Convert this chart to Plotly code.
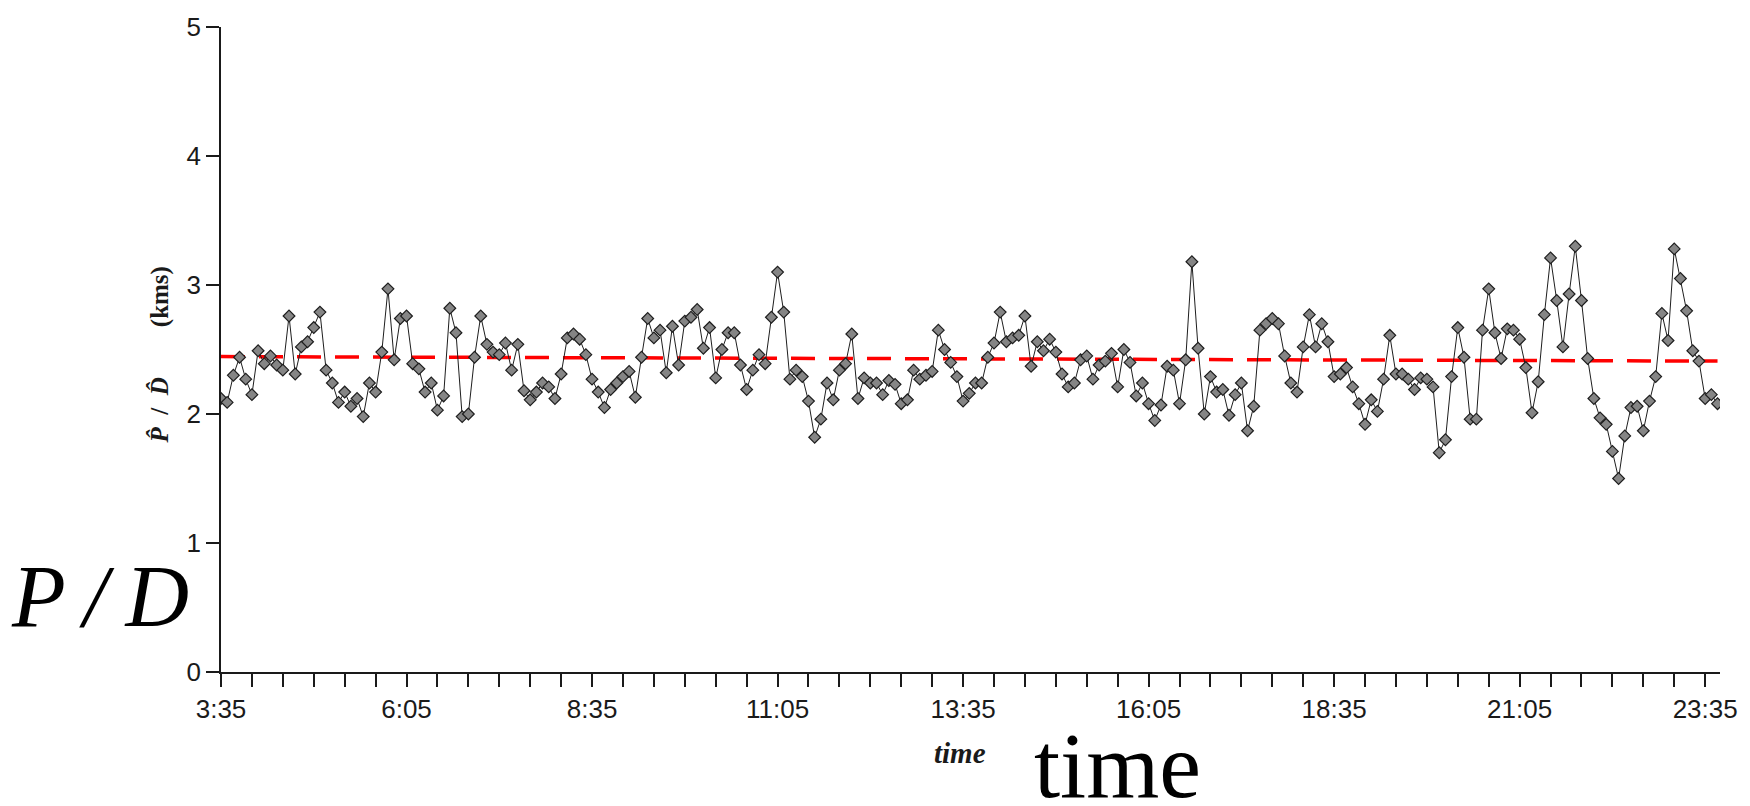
import plotly.graph_objects as go
from datetime import datetime, timedelta

# P/D estimates (kms), one every 5 minutes starting at 3:35
pd_values = [
    2.12, 2.09, 2.30, 2.44, 2.27, 2.15, 2.49, 2.39, 2.45, 2.38,
    2.34, 2.76, 2.31, 2.52, 2.56, 2.67, 2.79, 2.34, 2.24, 2.09,
    2.17, 2.06, 2.12, 1.98, 2.24, 2.17, 2.48, 2.97, 2.42, 2.74,
    2.76, 2.39, 2.35, 2.17, 2.24, 2.03, 2.14, 2.82, 2.63, 1.98,
    2.00, 2.44, 2.76, 2.54, 2.48, 2.46, 2.55, 2.34, 2.54, 2.18,
    2.11, 2.17, 2.24, 2.21, 2.12, 2.31, 2.59, 2.62, 2.58, 2.46,
    2.27, 2.17, 2.05, 2.19, 2.24, 2.29, 2.33, 2.13, 2.44, 2.74,
    2.59, 2.65, 2.32, 2.68, 2.38, 2.72, 2.75, 2.81, 2.51, 2.67,
    2.28, 2.50, 2.63, 2.63, 2.38, 2.19, 2.34, 2.46, 2.39, 2.75,
    3.10, 2.79, 2.27, 2.34, 2.29, 2.10, 1.82, 1.96, 2.24, 2.11,
    2.34, 2.39, 2.62, 2.12, 2.28, 2.24, 2.24, 2.15, 2.26, 2.23,
    2.08, 2.11, 2.34, 2.27, 2.30, 2.33, 2.65, 2.50, 2.40, 2.29,
    2.10, 2.16, 2.24, 2.24, 2.44, 2.55, 2.79, 2.56, 2.59, 2.61,
    2.76, 2.37, 2.56, 2.49, 2.58, 2.48, 2.31, 2.21, 2.24, 2.42,
    2.45, 2.27, 2.38, 2.41, 2.47, 2.21, 2.50, 2.40, 2.14, 2.24,
    2.08, 1.95, 2.07, 2.37, 2.34, 2.08, 2.42, 3.18, 2.51, 2.00,
    2.29, 2.17, 2.19, 1.99, 2.15, 2.24, 1.87, 2.06, 2.65, 2.70,
    2.74, 2.70, 2.45, 2.24, 2.17, 2.52, 2.77, 2.52, 2.70, 2.56,
    2.29, 2.31, 2.36, 2.21, 2.08, 1.92, 2.11, 2.02, 2.27, 2.61,
    2.31, 2.31, 2.27, 2.19, 2.28, 2.27, 2.21, 1.70, 1.80, 2.29,
    2.67, 2.44, 1.96, 1.96, 2.65, 2.97, 2.63, 2.43, 2.66, 2.65,
    2.58, 2.36, 2.01, 2.25, 2.77, 3.21, 2.88, 2.52, 2.93, 3.30,
    2.88, 2.43, 2.12, 1.97, 1.92, 1.71, 1.50, 1.83, 2.05, 2.06,
    1.87, 2.10, 2.29, 2.78, 2.57, 3.28, 3.05, 2.80, 2.49, 2.41,
    2.12, 2.15, 2.08,
]
start_time = "2000-01-01 03:35"
step_minutes = 5
axis_end = "2000-01-01 23:47"
tick_labels = ["3:35", "6:05", "8:35", "11:05", "13:35", "16:05", "18:35", "21:05", "23:35"]
trend_values = [2.445, 2.41]  # red dashed trend line, start and end

t0 = datetime.strptime(start_time, "%Y-%m-%d %H:%M")
times = [t0 + timedelta(minutes=step_minutes * i) for i in range(len(pd_values))]
tick_vals = [t0 + timedelta(minutes=150 * k) for k in range(len(tick_labels))]

fig = go.Figure()
fig.add_trace(go.Scatter(
    x=[times[0], times[-1]], y=trend_values, mode="lines",
    line=dict(color="#ff0000", width=3.5, dash="24px,14px"),
    hoverinfo="skip", showlegend=False,
))
fig.add_trace(go.Scatter(
    x=times, y=pd_values, mode="lines+markers",
    line=dict(color="#1e1e1e", width=1),
    marker=dict(symbol="diamond", size=9, color="#858585",
                line=dict(color="#1e1e1e", width=1.2)),
    showlegend=False,
))

tick_font = dict(family="Liberation Sans, Arial, sans-serif", size=26, color="#1a1a1a")
fig.update_layout(
    width=1750, height=806,
    margin=dict(l=221, r=29, t=20, b=134),
    paper_bgcolor="white", plot_bgcolor="white",
    xaxis=dict(
        type="date", range=[t0, datetime.strptime(axis_end, "%Y-%m-%d %H:%M")],
        tickmode="array", tickvals=tick_vals, ticktext=tick_labels,
        ticks="outside", ticklen=13, tickwidth=1.5, tickcolor="#1a1a1a",
        minor=dict(tickmode="linear", tick0=start_time, dtick=25 * 60 * 1000,
                   ticks="outside", ticklen=13, tickwidth=1.5, tickcolor="#1a1a1a"),
        showline=True, linecolor="#1a1a1a", linewidth=1.5,
        showgrid=False, zeroline=False, tickfont=tick_font,
    ),
    yaxis=dict(
        range=[0, 5], dtick=1, tick0=0,
        ticks="outside", ticklen=13, tickwidth=1.5, tickcolor="#1a1a1a",
        showline=True, linecolor="#1a1a1a", linewidth=1.5,
        showgrid=False, zeroline=False, tickfont=tick_font,
    ),
)

def px_x(px):
    return (px - 221) / 1500.0

def px_y(py):
    return (672 - py) / 652.0

annotations = [
    dict(text="<b><i>P\u0302</i>\u2002/\u2002<i>D\u0302</i>\u2003\u2003(kms)</b>", x=px_x(160), y=px_y(352),
         textangle=-90, font=dict(family="Liberation Serif, Times New Roman, serif", size=25, color="#1a1a1a")),
    dict(text="<i>P\u2009/\u2009D</i>", x=px_x(100), y=px_y(596),
         font=dict(family="Liberation Serif, Times New Roman, serif", size=88, color="black")),
    dict(text="<b><i>time</i></b>", x=px_x(960), y=px_y(754),
         font=dict(family="Liberation Serif, Times New Roman, serif", size=29, color="#1a1a1a")),
    dict(text="time", x=px_x(1118), y=px_y(766),
         font=dict(family="Liberation Serif, Times New Roman, serif", size=94, color="black")),
]
for a in annotations:
    a.update(xref="paper", yref="paper", showarrow=False, xanchor="center", yanchor="middle")
fig.update_layout(annotations=annotations)

fig.write_html("out.html")
